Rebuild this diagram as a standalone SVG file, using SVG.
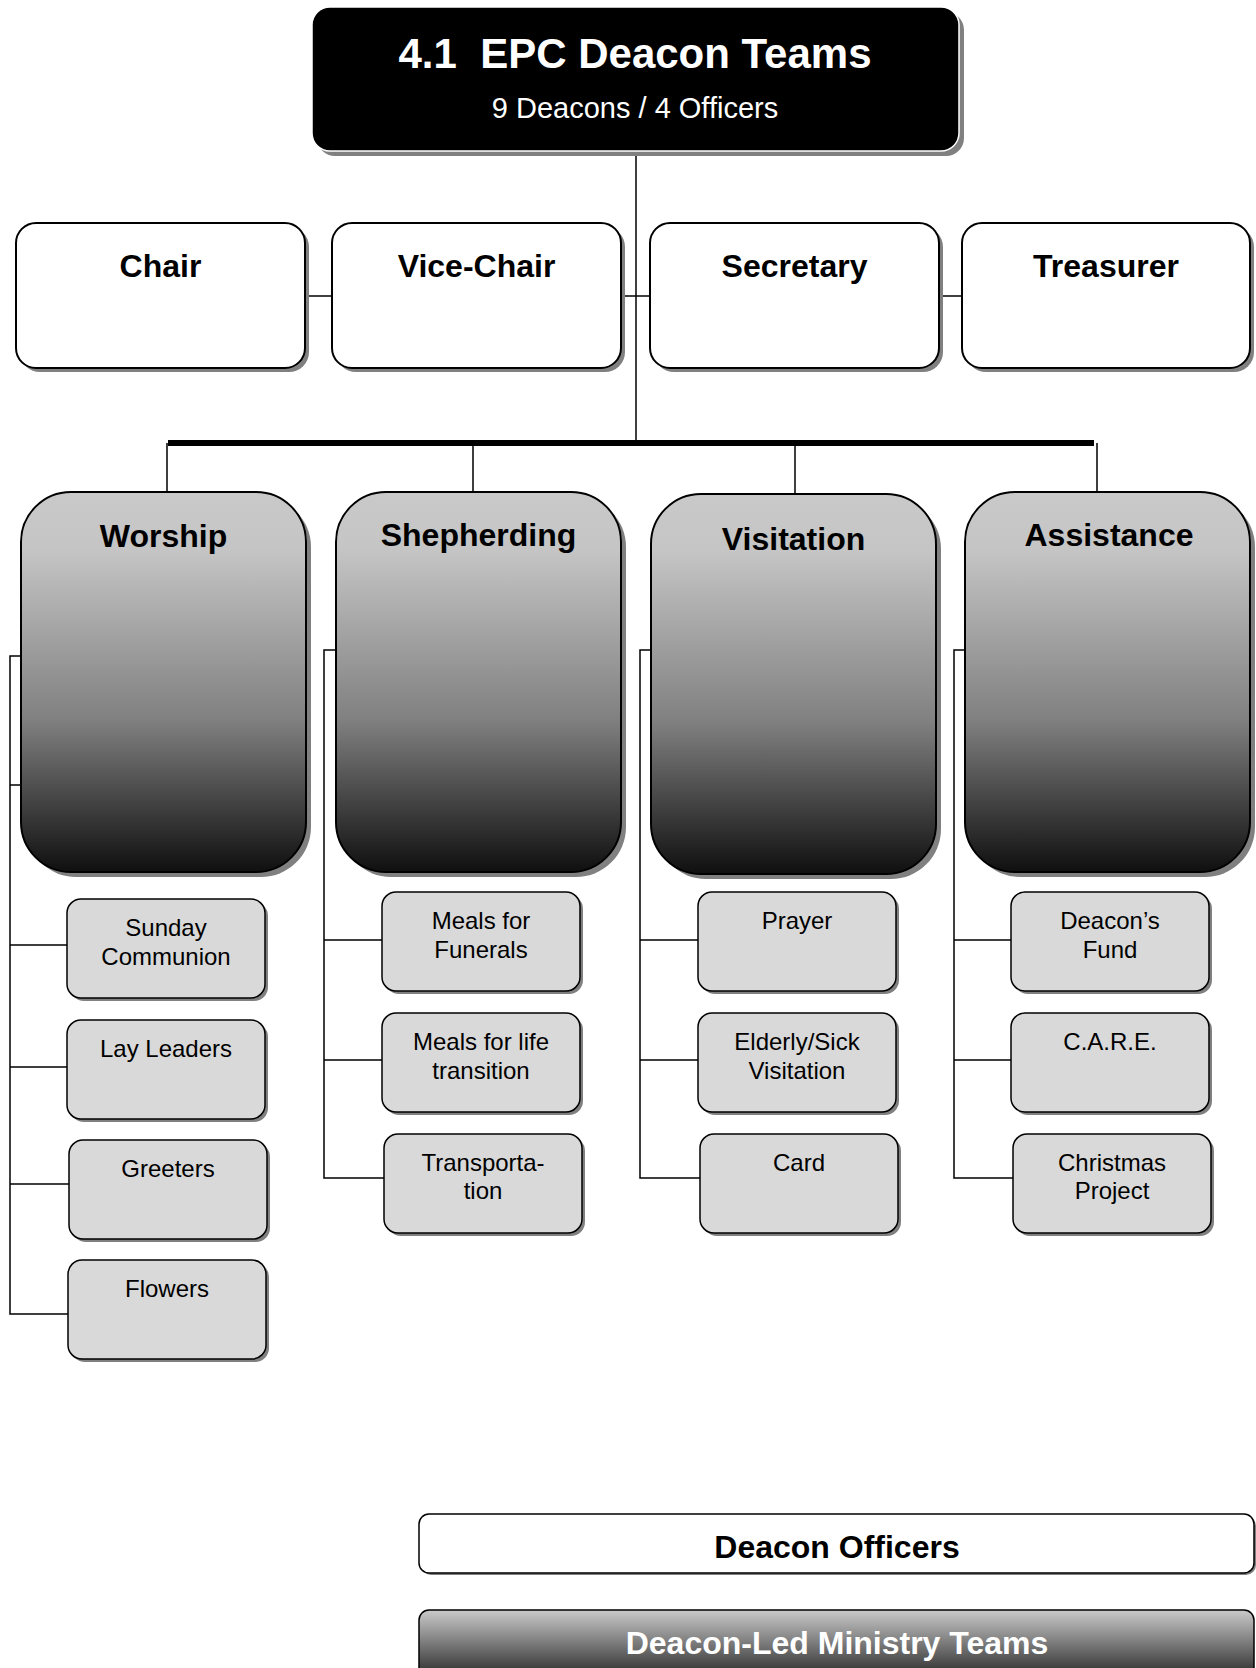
<svg xmlns="http://www.w3.org/2000/svg" width="1256" height="1668" viewBox="0 0 1256 1668">
<defs>
<linearGradient id="teamGrad" x1="0" y1="0" x2="0" y2="1">
<stop offset="0" stop-color="#c9c9c9"/>
<stop offset="0.15" stop-color="#c5c5c5"/>
<stop offset="0.6" stop-color="#808080"/>
<stop offset="1" stop-color="#0f0f0f"/>
</linearGradient>
<linearGradient id="legGrad" x1="0" y1="0" x2="0" y2="1">
<stop offset="0" stop-color="#cacaca"/>
<stop offset="1" stop-color="#1e1e1e"/>
</linearGradient>
</defs>
<style>
.shadow{fill:#808080}
.title{fill:#000;stroke:#fff;stroke-width:1.5}
.officer{fill:#fff;stroke:#000;stroke-width:2}
.team{fill:url(#teamGrad);stroke:#000;stroke-width:2}
.sub{fill:#d9d9d9;stroke:#000;stroke-width:1.5}
.line{stroke:#000;stroke-width:1.5;fill:none}
.bar{stroke:#000;stroke-width:6;fill:none}
text{font-family:"Liberation Sans",Arial,sans-serif;text-anchor:middle}
.h{font-weight:bold;font-size:32px;fill:#000}
.s{font-size:24px;fill:#000}
</style>
<rect width="1256" height="1668" fill="#fff"/>

<g id="connectors">
<path class="line" d="M636 151V442"/>
<path class="line" d="M305 296H332M621 296H650M939 296H962"/>
<path class="bar" d="M168 443H1094"/>
<path class="line" d="M167 443V492M473 443V492M795 443V494M1097 443V492"/>
<path class="line" d="M21 656H10V1314H68M10 785H21M10 945H67M10 1067H67M10 1184H69"/>
<path class="line" d="M336 650H324V1178H384M324 940H382M324 1060H382"/>
<path class="line" d="M651 650H640V1178H700M640 940H698M640 1060H698"/>
<path class="line" d="M965 650H954V1178H1013M954 940H1011M954 1060H1011"/>
</g>

<g id="title">
<rect class="shadow" x="317" y="12" width="647" height="144" rx="18"/>
<rect class="title" x="312" y="7" width="647" height="144" rx="18"/>
<text x="635" y="68" xml:space="preserve" style="font-weight:bold;font-size:42px;fill:#fff">4.1  EPC Deacon Teams</text>
<text x="635" y="118" style="font-size:29px;fill:#fff">9 Deacons / 4 Officers</text>
</g>

<g id="chair">
<rect class="shadow" x="20" y="227" width="289" height="145" rx="20"/>
<rect class="officer" x="16" y="223" width="289" height="145" rx="20"/>
<text class="h" x="160.5" y="277">Chair</text>
</g>
<g id="vice-chair">
<rect class="shadow" x="336" y="227" width="289" height="145" rx="20"/>
<rect class="officer" x="332" y="223" width="289" height="145" rx="20"/>
<text class="h" x="476.5" y="277">Vice-Chair</text>
</g>
<g id="secretary">
<rect class="shadow" x="654" y="227" width="289" height="145" rx="20"/>
<rect class="officer" x="650" y="223" width="289" height="145" rx="20"/>
<text class="h" x="794.5" y="277">Secretary</text>
</g>
<g id="treasurer">
<rect class="shadow" x="966" y="227" width="288" height="145" rx="20"/>
<rect class="officer" x="962" y="223" width="288" height="145" rx="20"/>
<text class="h" x="1106" y="277">Treasurer</text>
</g>

<g id="worship">
<rect class="shadow" x="26" y="497" width="285" height="380" rx="50"/>
<rect class="team" x="21" y="492" width="285" height="380" rx="50"/>
<text class="h" x="163.5" y="547">Worship</text>
</g>
<g id="shepherding">
<rect class="shadow" x="341" y="497" width="285" height="380" rx="50"/>
<rect class="team" x="336" y="492" width="285" height="380" rx="50"/>
<text class="h" x="478.5" y="546">Shepherding</text>
</g>
<g id="visitation">
<rect class="shadow" x="656" y="499" width="285" height="380" rx="50"/>
<rect class="team" x="651" y="494" width="285" height="380" rx="50"/>
<text class="h" x="793.5" y="550">Visitation</text>
</g>
<g id="assistance">
<rect class="shadow" x="970" y="497" width="285" height="380" rx="50"/>
<rect class="team" x="965" y="492" width="285" height="380" rx="50"/>
<text class="h" x="1109" y="546">Assistance</text>
</g>

<g id="sunday-communion">
<rect class="shadow" x="70" y="902" width="198" height="99" rx="14"/>
<rect class="sub" x="67" y="899" width="198" height="99" rx="14"/>
<text class="s" x="166" y="936">Sunday</text>
<text class="s" x="166" y="965">Communion</text>
</g>
<g id="lay-leaders">
<rect class="shadow" x="70" y="1023" width="198" height="99" rx="14"/>
<rect class="sub" x="67" y="1020" width="198" height="99" rx="14"/>
<text class="s" x="166" y="1057">Lay Leaders</text>
</g>
<g id="greeters">
<rect class="shadow" x="72" y="1143" width="198" height="99" rx="14"/>
<rect class="sub" x="69" y="1140" width="198" height="99" rx="14"/>
<text class="s" x="168" y="1177">Greeters</text>
</g>
<g id="flowers">
<rect class="shadow" x="71" y="1263" width="198" height="99" rx="14"/>
<rect class="sub" x="68" y="1260" width="198" height="99" rx="14"/>
<text class="s" x="167" y="1297">Flowers</text>
</g>

<g id="meals-funerals">
<rect class="shadow" x="385" y="895" width="198" height="99" rx="14"/>
<rect class="sub" x="382" y="892" width="198" height="99" rx="14"/>
<text class="s" x="481" y="929">Meals for</text>
<text class="s" x="481" y="958">Funerals</text>
</g>
<g id="meals-life">
<rect class="shadow" x="385" y="1016" width="198" height="99" rx="14"/>
<rect class="sub" x="382" y="1013" width="198" height="99" rx="14"/>
<text class="s" x="481" y="1050">Meals for life</text>
<text class="s" x="481" y="1079">transition</text>
</g>
<g id="transportation">
<rect class="shadow" x="387" y="1137" width="198" height="99" rx="14"/>
<rect class="sub" x="384" y="1134" width="198" height="99" rx="14"/>
<text class="s" x="483" y="1171">Transporta-</text>
<text class="s" x="483" y="1199">tion</text>
</g>

<g id="prayer">
<rect class="shadow" x="701" y="895" width="198" height="99" rx="14"/>
<rect class="sub" x="698" y="892" width="198" height="99" rx="14"/>
<text class="s" x="797" y="929">Prayer</text>
</g>
<g id="elderly-sick">
<rect class="shadow" x="701" y="1016" width="198" height="99" rx="14"/>
<rect class="sub" x="698" y="1013" width="198" height="99" rx="14"/>
<text class="s" x="797" y="1050">Elderly/Sick</text>
<text class="s" x="797" y="1079">Visitation</text>
</g>
<g id="card">
<rect class="shadow" x="703" y="1137" width="198" height="99" rx="14"/>
<rect class="sub" x="700" y="1134" width="198" height="99" rx="14"/>
<text class="s" x="799" y="1171">Card</text>
</g>

<g id="deacons-fund">
<rect class="shadow" x="1014" y="895" width="198" height="99" rx="14"/>
<rect class="sub" x="1011" y="892" width="198" height="99" rx="14"/>
<text class="s" x="1110" y="929">Deacon’s</text>
<text class="s" x="1110" y="958">Fund</text>
</g>
<g id="care">
<rect class="shadow" x="1014" y="1016" width="198" height="99" rx="14"/>
<rect class="sub" x="1011" y="1013" width="198" height="99" rx="14"/>
<text class="s" x="1110" y="1050">C.A.R.E.</text>
</g>
<g id="christmas-project">
<rect class="shadow" x="1016" y="1137" width="198" height="99" rx="14"/>
<rect class="sub" x="1013" y="1134" width="198" height="99" rx="14"/>
<text class="s" x="1112" y="1171">Christmas</text>
<text class="s" x="1112" y="1199">Project</text>
</g>

<g id="legend-officers">
<rect class="shadow" x="421" y="1516" width="835" height="59" rx="10"/>
<rect class="officer" x="419" y="1514" width="835" height="59" rx="10" style="stroke-width:1.5"/>
<text class="h" x="837" y="1558">Deacon Officers</text>
</g>
<g id="legend-teams">
<rect x="419" y="1610" width="835" height="72" rx="10" fill="url(#legGrad)" stroke="#000" stroke-width="1.5"/>
<text class="h" x="837" y="1654" style="fill:#fff">Deacon-Led Ministry Teams</text>
</g>
</svg>
